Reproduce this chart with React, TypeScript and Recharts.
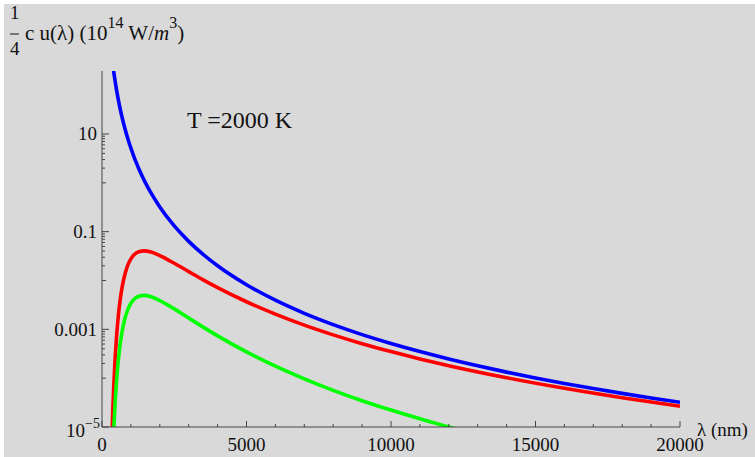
import React from "react";
import { LineChart, Line, XAxis, YAxis } from "recharts";

// wavelengths (nm) and values (10^14 W/m^3)
const lambdaBlue = [380, 420, 450, 500, 600, 700, 800, 900, 1000, 1100, 1200, 1300, 1500, 1700, 2000, 2500, 3000, 3500, 4000, 5000, 6000, 7000, 8000, 9000, 10000, 11000, 12000, 13000, 14000, 15000, 16000, 17000, 18000, 19000, 20000];
const uBlue = [246, 164, 125, 81.9, 39.5, 21.3, 12.5, 7.8, 5.12, 3.5, 2.47, 1.79, 1.01, 0.613, 0.32, 0.131, 0.0632, 0.0341, 0.02, 0.00819, 0.00395, 0.00213, 0.00125, 0.00078, 0.000512, 0.00035, 0.000247, 0.000179, 0.000133, 0.000101, 0.0000781, 0.0000613, 0.0000488, 0.0000393, 0.000032];

const lambdaRed = [300, 350, 360, 380, 400, 450, 500, 550, 600, 650, 700, 800, 900, 1000, 1100, 1200, 1300, 1450, 1700, 2000, 2500, 3000, 3500, 4000, 5000, 6000, 7000, 8000, 9000, 10000, 11000, 12000, 14000, 16000, 18000, 20000];
const uRed = [5.8e-7, 8.3e-6, 1.28e-5, 2.79e-5, 5.5e-5, 2.28e-4, 6.6e-4, 1.53e-3, 2.94e-3, 4.95e-3, 7.5e-3, 0.0139, 0.0211, 0.0277, 0.0331, 0.0369, 0.0394, 0.0405, 0.0382, 0.0324, 0.0225, 0.0152, 0.0103, 0.00714, 0.00367, 0.00205, 0.00122, 0.000771, 0.000509, 0.00035, 0.000248, 0.00018, 0.000102, 0.0000619, 0.0000397, 0.0000266];

const lambdaGreen = [380, 420, 450, 500, 550, 600, 650, 700, 800, 900, 1000, 1100, 1200, 1300, 1450, 1700, 2000, 2500, 3000, 3500, 4000, 5000, 6000, 7000, 8000, 9000, 10000, 11000, 12000, 12500];
const uGreen = [3.4e-6, 1.26e-5, 2.8e-5, 8.1e-5, 1.89e-4, 3.6e-4, 6.1e-4, 9.3e-4, 1.72e-3, 2.6e-3, 3.42e-3, 4.08e-3, 4.54e-3, 4.84e-3, 4.97e-3, 4.65e-3, 3.89e-3, 2.62e-3, 1.7e-3, 1.11e-3, 7.36e-4, 3.45e-4, 1.76e-4, 9.7e-5, 5.64e-5, 3.46e-5, 2.22e-5, 1.47e-5, 1.0e-5, 8.4e-6];

const xTicks = [0, 1000, 2000, 3000, 4000, 5000, 6000, 7000, 8000, 9000, 10000, 11000, 12000, 13000, 14000, 15000, 16000, 17000, 18000, 19000, 20000];
const xLabels = ["0", "5000", "10000", "15000", "20000"];
const yMajor = [1e-5, 0.001, 0.1, 10];
const yMajorLabels = ["10", "0.001", "0.1", "10"];
const yMinor = [
  9, 8, 7, 6, 5, 4, 3, 2, 1,
  0.09, 0.08, 0.07, 0.06, 0.05, 0.04, 0.03, 0.02, 0.01,
  0.0009, 0.0008, 0.0007, 0.0006, 0.0005, 0.0004, 0.0003, 0.0002, 0.0001,
];

const toPoints = (xs: number[], ys: number[]) => xs.map((x, i) => ({ x, u: ys[i] }));

const FONT = "'Liberation Serif', 'DejaVu Serif', serif";
const AXIS = "#444";

function XTick(props: any) {
  const { x, y, payload } = props;
  const v = payload.value;
  const major = v % 5000 === 0;
  const ay = y - 5;
  return (
    <g>
      <line x1={x} x2={x} y1={ay} y2={ay - (major ? 6 : 3)} stroke={AXIS} strokeWidth={1} />
      {major && (
        <text x={x} y={y + 19} textAnchor="middle" fontFamily={FONT} fontSize={19} fill="#111">
          {xLabels[v / 5000]}
        </text>
      )}
    </g>
  );
}

function YTick(props: any) {
  const { x, y, payload } = props;
  const v = payload.value;
  const ax = x + 5;
  const mi = yMajor.indexOf(v);
  const decade = [1, 0.01, 0.0001].includes(v);
  const len = mi >= 0 ? 7 : decade ? 4 : 3;
  return (
    <g>
      <line x1={ax} x2={ax + len} y1={y} y2={y} stroke={AXIS} strokeWidth={1} />
      {mi === 0 && (
        <text x={x + 3} y={y + 10} textAnchor="end" fontFamily={FONT} fontSize={19} fill="#111">
          <tspan>10</tspan>
          <tspan fontSize={14} dy={-9}>−5</tspan>
        </text>
      )}
      {mi > 0 && (
        <text x={x} y={y + 6.5} textAnchor="end" fontFamily={FONT} fontSize={19} fill="#111">
          {yMajorLabels[mi]}
        </text>
      )}
    </g>
  );
}

export default function App() {
  return (
    <div style={{ position: "absolute", left: 0, top: 0, width: 755, height: 457, background: "#fff" }}>
      <div style={{ position: "absolute", left: 4, top: 4, width: 751, height: 453, background: "#d9d9d9" }} />
      <div style={{ position: "absolute", left: 0, top: 0 }}>
        <LineChart width={755} height={457} margin={{ top: 71, right: 75, left: 0, bottom: 0 }}>
          <XAxis
            type="number"
            dataKey="x"
            domain={[0, 20000]}
            ticks={xTicks}
            interval={0}
            allowDataOverflow
            height={30}
            tickSize={5}
            tickMargin={0}
            tickLine={false}
            axisLine={{ stroke: AXIS }}
            tick={(p: any) => <XTick {...p} />}
          />
          <YAxis
            type="number"
            dataKey="u"
            scale="log"
            domain={[1e-5, 195]}
            ticks={[...yMajor, ...yMinor]}
            interval={0}
            allowDataOverflow
            width={102}
            tickSize={5}
            tickMargin={0}
            tickLine={false}
            axisLine={{ stroke: AXIS }}
            tick={(p: any) => <YTick {...p} />}
          />
          <Line data={toPoints(lambdaBlue, uBlue)} dataKey="u" type="monotone" stroke="#0000ff" strokeWidth={3.6} dot={false} isAnimationActive={false} />
          <Line data={toPoints(lambdaRed, uRed)} dataKey="u" type="monotone" stroke="#ff0000" strokeWidth={3.6} dot={false} isAnimationActive={false} />
          <Line data={toPoints(lambdaGreen, uGreen)} dataKey="u" type="monotone" stroke="#00ff00" strokeWidth={3.6} dot={false} isAnimationActive={false} />
        </LineChart>
      </div>
      <svg width={755} height={457} style={{ position: "absolute", left: 0, top: 0, pointerEvents: "none" }}>
        <text x={10} y={19} fontFamily={FONT} fontSize={19} fill="#111">1</text>
        <line x1={10} x2={19} y1={34} y2={34} stroke="#111" strokeWidth={1} />
        <text x={10} y={55} fontFamily={FONT} fontSize={19} fill="#111">4</text>
        <text x={25} y={40} fontFamily={FONT} fontSize={21} fill="#111">
          <tspan>c  u(λ) (10</tspan>
          <tspan fontSize={16} dy={-12}>14</tspan>
          <tspan dy={12}> W/</tspan>
          <tspan fontStyle="italic">m</tspan>
          <tspan fontSize={16} dy={-12}>3</tspan>
          <tspan dy={12}>)</tspan>
        </text>
        <text x={187} y={128} fontFamily={FONT} fontSize={24} fill="#111">T =2000 K</text>
        <text x={697} y={436} fontFamily={FONT} fontSize={19} fill="#111">λ (nm)</text>
      </svg>
    </div>
  );
}
